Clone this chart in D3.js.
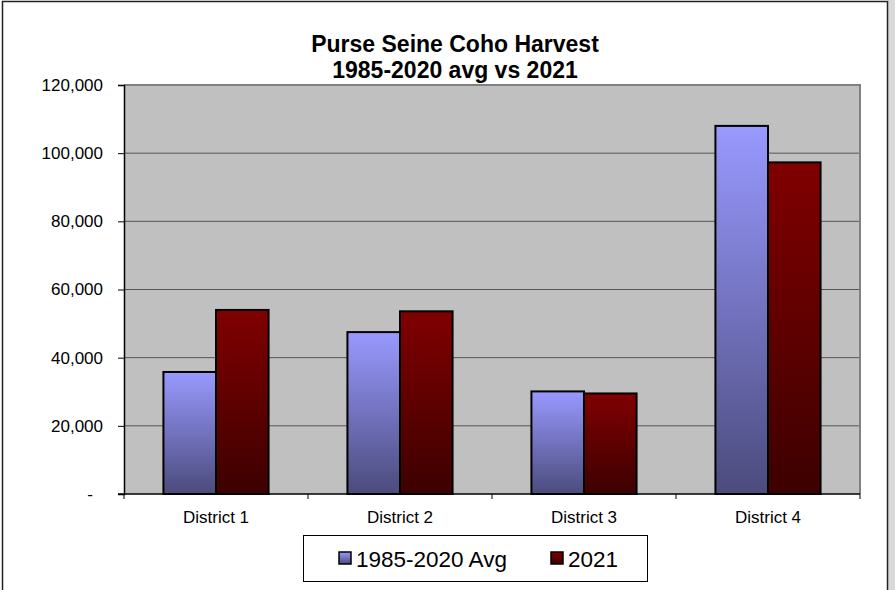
<!DOCTYPE html>
<html>
<head>
<meta charset="utf-8">
<script src="https://cdn.jsdelivr.net/npm/d3@7"></script>
<style>
  body { margin: 0; background: #fff; }
  text { font-family: "Liberation Sans", Arial, sans-serif; }
</style>
</head>
<body>
<div id="chart"></div>
<script>
var districts = ['District 1', 'District 2', 'District 3', 'District 4'];
var avg_1985_2020 = [35800, 47500, 30100, 108000];
var harvest_2021 = [54000, 53600, 29500, 97300];
var series_names = ['1985-2020 Avg', '2021'];
var y_ticks = [0, 20000, 40000, 60000, 80000, 100000, 120000];

var width = 895, height = 590;
var plot = {left: 124, top: 85, right: 860, bottom: 494};
var font = '"Liberation Sans", Arial, sans-serif';

var svg = d3.select('#chart').append('svg')
    .attr('width', width)
    .attr('height', height);

// gradients
var defs = svg.append('defs');
function add_grad(id, top_col, bottom_col) {
  var g = defs.append('linearGradient')
    .attr('id', id)
    .attr('x1', 0).attr('y1', 0).attr('x2', 0).attr('y2', 1);
  g.append('stop').attr('offset', '0%').attr('stop-color', top_col);
  g.append('stop').attr('offset', '100%').attr('stop-color', bottom_col);
}
add_grad('grad-blue', '#9999ff', '#4b4b7d');
add_grad('grad-red', '#800000', '#3d0000');

// outer area
svg.append('rect')
  .attr('x', 888).attr('y', 0)
  .attr('width', 7).attr('height', height)
  .attr('fill', '#d9d9d9');
svg.append('rect')
  .attr('x', 2.5).attr('y', 1.5)
  .attr('width', 885).attr('height', 600)
  .attr('fill', '#fff')
  .attr('stroke', '#222')
  .attr('stroke-width', 1.5);

var x = d3.scaleBand()
  .domain(districts)
  .range([plot.left, plot.right]);

var x_inner = d3.scaleBand()
  .domain(series_names)
  .range([0, x.bandwidth()])
  .paddingInner(0)
  .paddingOuter(0.75);

var y = d3.scaleLinear()
  .domain([0, 120000])
  .range([plot.bottom, plot.top]);

// plot area
svg.append('rect')
  .attr('x', plot.left)
  .attr('y', plot.top)
  .attr('width', plot.right - plot.left)
  .attr('height', plot.bottom - plot.top)
  .attr('fill', '#c0c0c0');

// gridlines
svg.append('g')
  .selectAll('line')
  .data(y_ticks.filter(function(d) { return d > 0; }))
  .join('line')
  .attr('x1', plot.left)
  .attr('x2', plot.right)
  .attr('y1', function(d) { return y(d); })
  .attr('y2', function(d) { return y(d); })
  .attr('stroke', '#555')
  .attr('stroke-width', 1);

// plot border top/right
svg.append('path')
  .attr('d', 'M' + plot.left + ',' + plot.top + 'H' + plot.right + 'V' + plot.bottom)
  .attr('fill', 'none')
  .attr('stroke', '#808080')
  .attr('stroke-width', 2);

// bars
var series = [
  {name: series_names[0], values: avg_1985_2020, fill: 'url(#grad-blue)'},
  {name: series_names[1], values: harvest_2021, fill: 'url(#grad-red)'}
];

series.forEach(function(s) {
  svg.append('g')
    .selectAll('rect')
    .data(s.values)
    .join('rect')
    .attr('x', function(d, i) { return x(districts[i]) + x_inner(s.name); })
    .attr('y', function(d) { return y(d); })
    .attr('width', x_inner.bandwidth())
    .attr('height', function(d) { return y(0) - y(d); })
    .attr('fill', s.fill)
    .attr('stroke', '#000')
    .attr('stroke-width', 2);
});

// y axis
var y_axis = svg.append('g')
  .attr('transform', 'translate(' + plot.left + ',0)')
  .call(d3.axisLeft(y)
    .tickValues(y_ticks)
    .tickSize(6)
    .tickPadding(15)
    .tickFormat(function(d) { return d === 0 ? '-' : d3.format(',')(d); }));
y_axis.select('.domain').attr('stroke', '#000').attr('stroke-width', 1.5);
y_axis.selectAll('.tick line').attr('stroke', '#000');
y_axis.selectAll('text')
  .attr('font-size', 17)
  .attr('fill', '#000')
  .attr('dx', function(d) { return d === 0 ? -10 : 0; })
  .style('font-family', font);

// x axis
var x_axis = svg.append('g')
  .attr('transform', 'translate(0,' + plot.bottom + ')')
  .call(d3.axisBottom(x).tickSize(0).tickPadding(17));
x_axis.select('.domain').remove();
x_axis.selectAll('text')
  .attr('font-size', 17)
  .attr('fill', '#000')
  .style('font-family', font);
x_axis.append('line')
  .attr('x1', plot.left - 6).attr('x2', plot.right)
  .attr('y1', 0).attr('y2', 0)
  .attr('stroke', '#000').attr('stroke-width', 1.5);
x_axis.selectAll('.sep')
  .data(districts.concat(['end']))
  .join('line')
  .attr('class', 'sep')
  .attr('x1', function(d, i) { return plot.left + i * x.bandwidth(); })
  .attr('x2', function(d, i) { return plot.left + i * x.bandwidth(); })
  .attr('y1', 0).attr('y2', 5)
  .attr('stroke', '#000');

// title
function add_title(t, yy) {
  svg.append('text')
    .attr('x', 455)
    .attr('y', yy)
    .attr('text-anchor', 'middle')
    .attr('font-size', 23)
    .attr('font-weight', 'bold')
    .text(t);
}
add_title('Purse Seine Coho Harvest', 52);
add_title('1985-2020 avg vs 2021', 78);

// legend
var legend = svg.append('g');
legend.append('rect')
  .attr('x', 303.5).attr('y', 535.5)
  .attr('width', 344).attr('height', 46)
  .attr('fill', '#fff')
  .attr('stroke', '#000')
  .attr('stroke-width', 1);

var legend_x = [339, 551];
series.forEach(function(s, i) {
  legend.append('rect')
    .attr('x', legend_x[i]).attr('y', 552)
    .attr('width', 12).attr('height', 12)
    .attr('fill', s.fill)
    .attr('stroke', '#000')
    .attr('stroke-width', 1.5);
  legend.append('text')
    .attr('x', legend_x[i] + 17)
    .attr('y', 567)
    .attr('font-size', 22.5)
    .text(s.name);
});
</script>
</body>
</html>
